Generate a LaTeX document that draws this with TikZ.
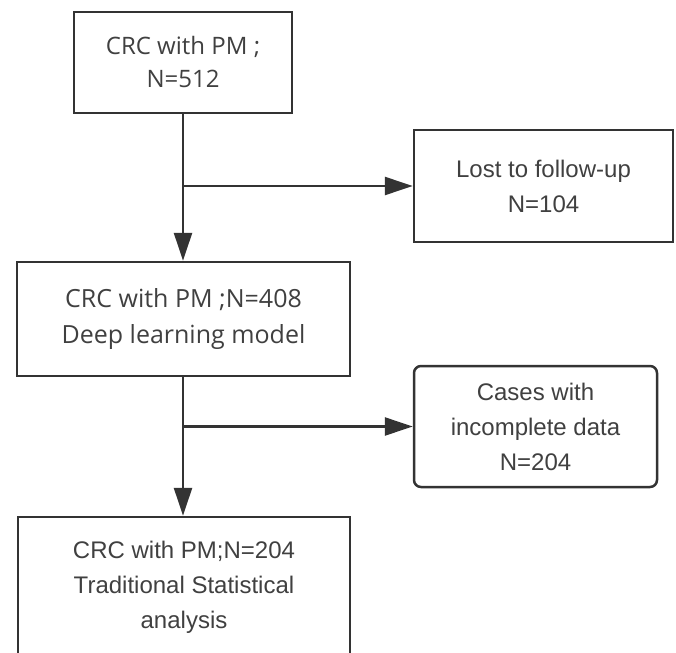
\documentclass[tikz,border=0pt]{standalone}
\usepackage{fontspec}
\setmainfont{Liberation Sans}
\newfontfamily\boxfont{Open Sans}
\usetikzlibrary{arrows.meta}
\tikzset{
  flowbox/.style={draw=black!80, line width=2.5pt, text=black!75, align=center, inner sep=0pt, font=\fontsize{24}{35}\selectfont},
  flowarrow/.style={draw=black!80, line width=2.5pt, -{Triangle[length=28pt,width=18pt]}}
}
\begin{document}
\begin{tikzpicture}[x=1pt,y=-1pt]
\useasboundingbox (0,0) rectangle (676,652);
\node[flowbox, minimum width=218pt, minimum height=101pt, font=\boxfont\fontsize{24}{33}\selectfont] (box0) at (183,62.5){CRC with PM ;\\N=512};
\node[flowbox, minimum width=259pt, minimum height=112pt] (box1) at (543.5,186){Lost to follow-up\\N=104};
\node[flowbox, minimum width=333pt, minimum height=114pt, font=\boxfont\fontsize{25}{36}\selectfont] (box2) at (183.5,319){CRC with PM ;N=408\\Deep learning model};
\node[flowbox, rounded corners=7pt, minimum width=243pt, minimum height=121pt] (box3) at (535.5,426.5){Cases with\\incomplete data\\N=204};
\node[flowbox, minimum width=332pt, minimum height=141pt] (box4) at (184,587.5){CRC with PM;N=204\\Traditional Statistical\\analysis};
\coordinate (br0) at (183,186);
\coordinate (br1) at (183,426.5);
\draw[flowarrow](box0.south) -- (box2.north -| box0.south);
\draw[flowarrow](br0) -- (box1.west);
\draw[flowarrow](box2.south -| box0.south) -- (box4.north -| box0.south);
\draw[flowarrow](br1) -- (box3.west);
\end{tikzpicture}
\end{document}
